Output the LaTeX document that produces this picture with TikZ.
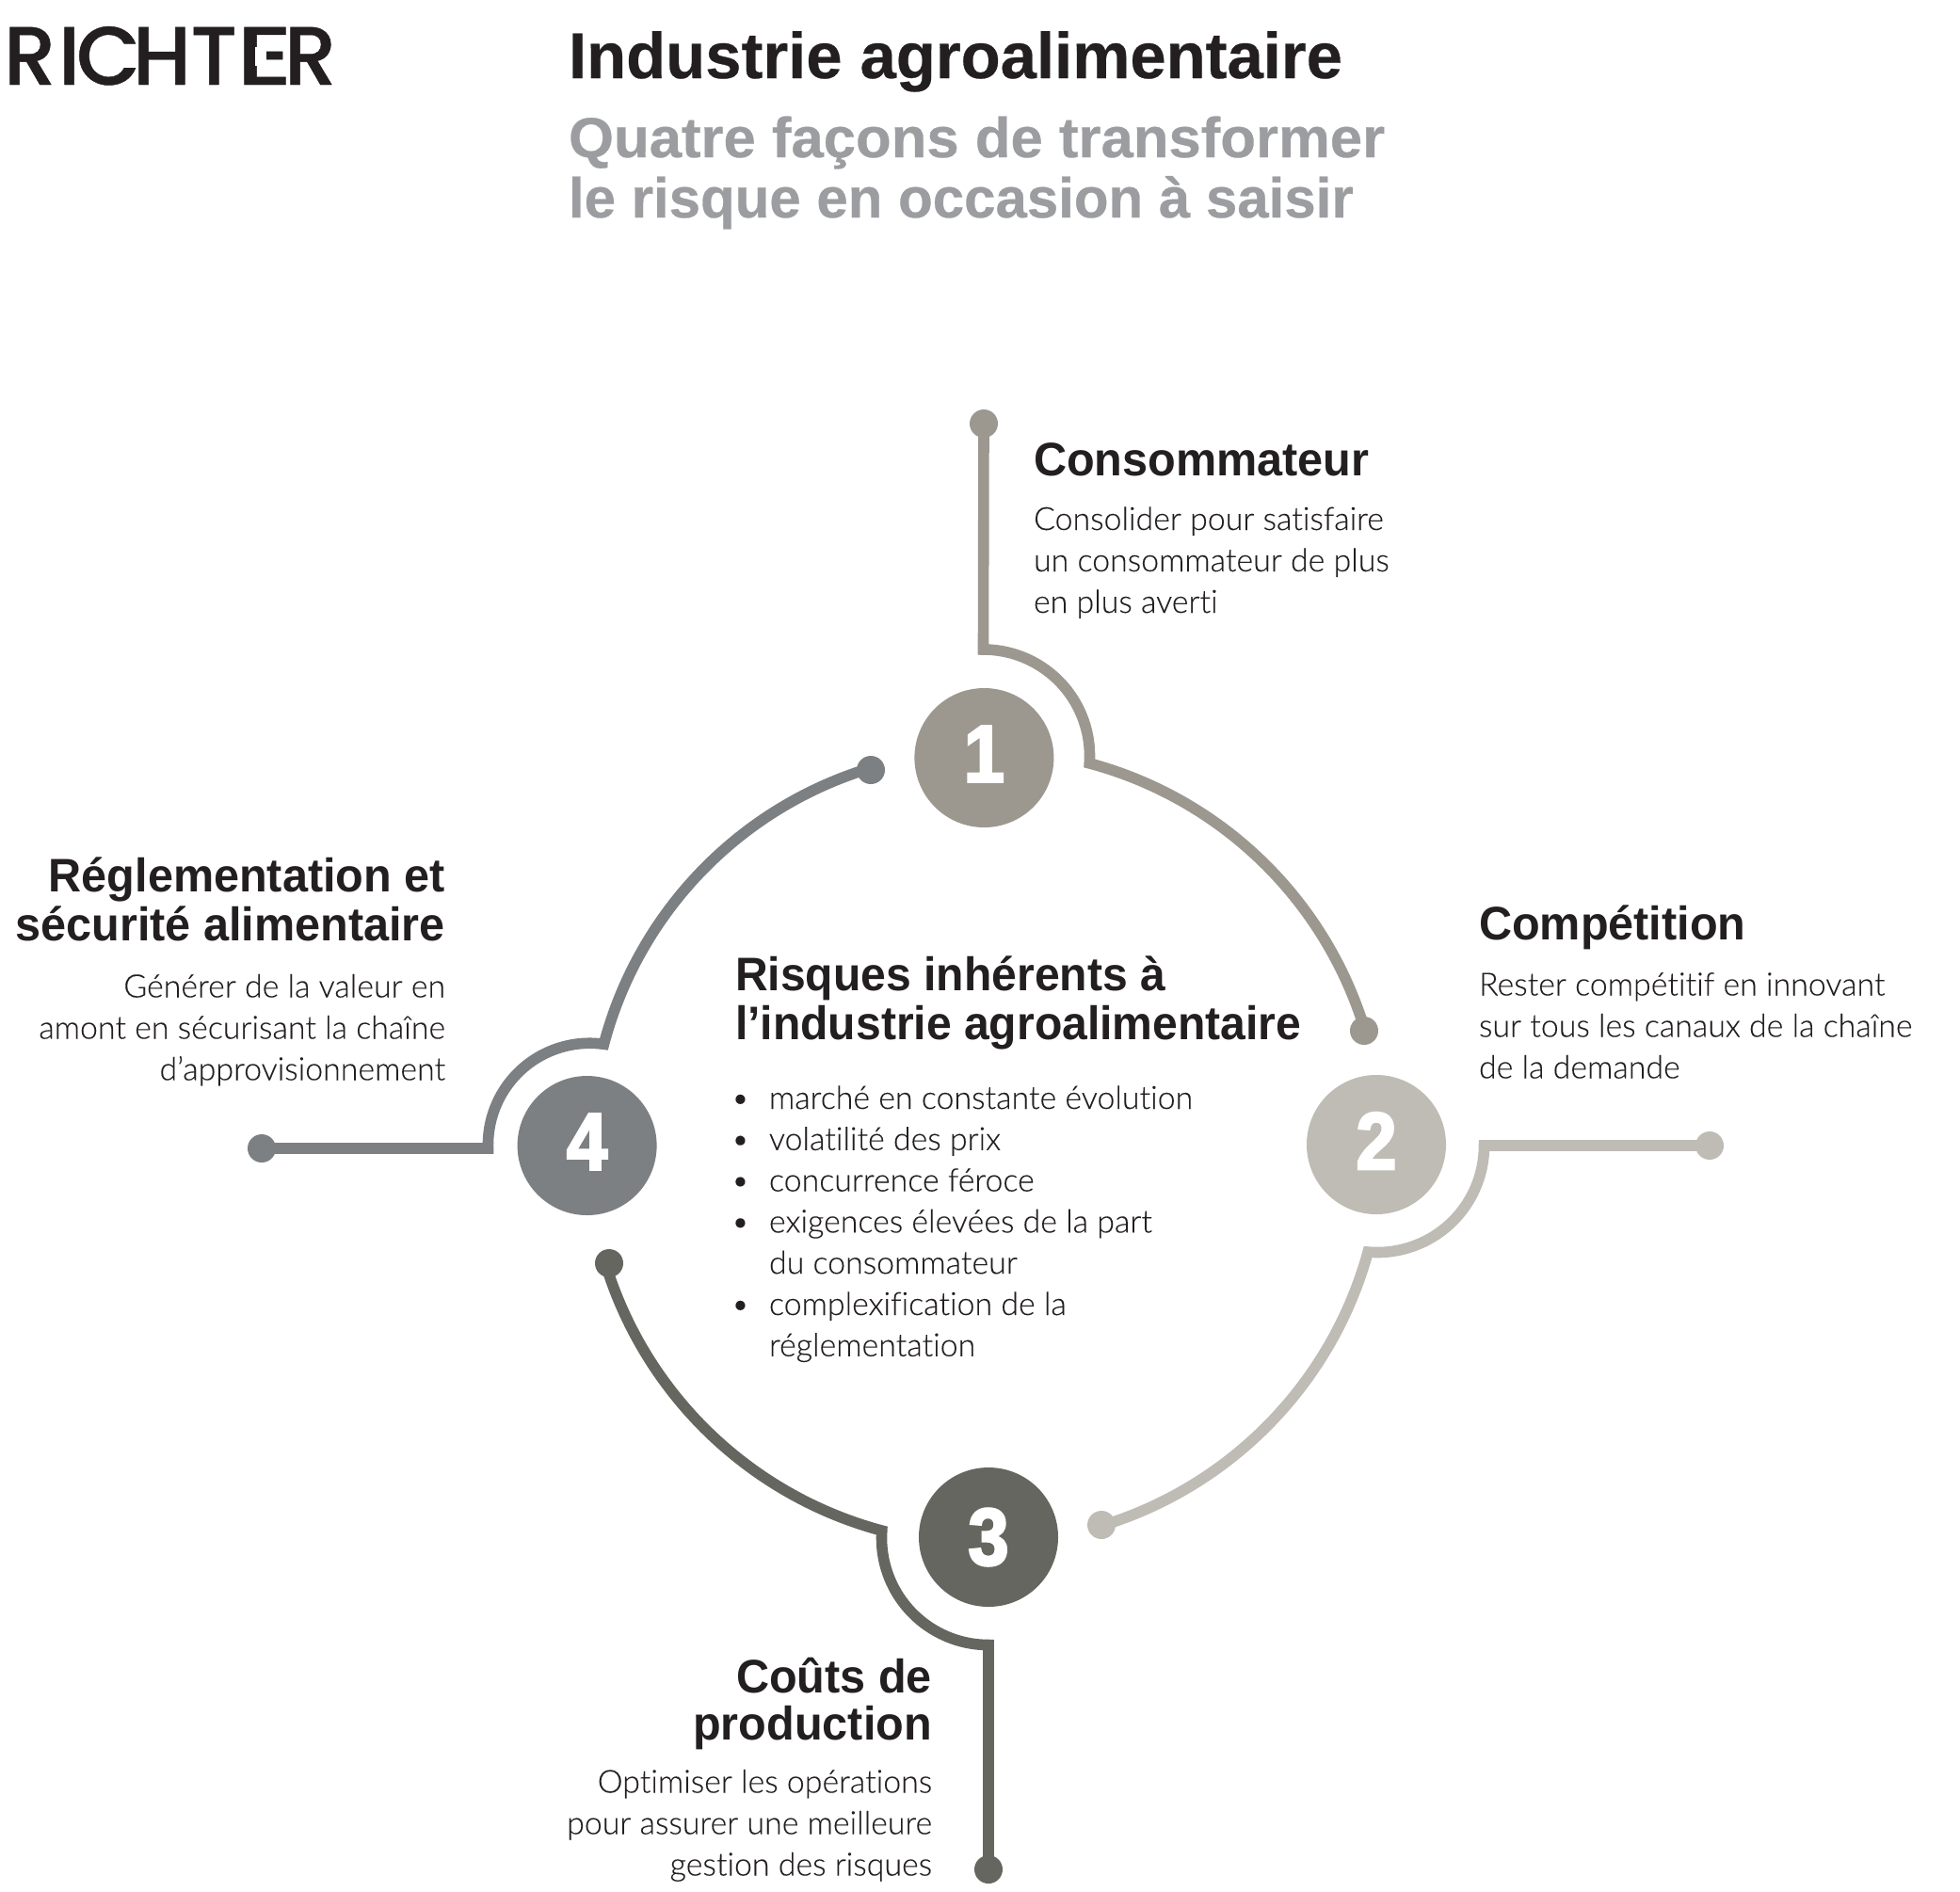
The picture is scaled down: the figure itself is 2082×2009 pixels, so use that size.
\documentclass[tikz,border=0pt]{standalone}
\usepackage{fontspec}
\setmainfont{Liberation Sans}
\newfontfamily\headf{Liberation Sans Bold}[FakeStretch=0.972]
\newfontfamily\centref{Liberation Sans Bold}[FakeStretch=0.962]
\newfontfamily\titlef{Liberation Sans Bold}[FakeBold=0.4]
\newfontfamily\subf{Liberation Sans Bold}[FakeBold=0.5]
\newfontfamily\subwide{Liberation Sans Bold}[FakeStretch=1.028,FakeBold=0.5]
\newfontfamily\logof{Poppins Medium}[FakeBold=0.5]
\newfontfamily\logoe{Poppins Medium}[FakeBold=0.5,FakeStretch=1.3]
\newfontfamily\lightf{Lato Light}[Ligatures=NoCommon,FakeBold=0.15]
\newfontfamily\numf{Liberation Sans Bold}[FakeBold=3,FakeStretch=0.9]
\definecolor{ink}{HTML}{231F20}
\definecolor{sub}{HTML}{9C9DA0}
\definecolor{cone}{HTML}{9C9890}
\definecolor{ctwo}{HTML}{BEBCB4}
\definecolor{cthree}{HTML}{666660}
\definecolor{cfour}{HTML}{7C8082}
\newcommand\lblock[2]{\vtop{\baselineskip=#1\lineskiplimit=-100pt\halign{##\hfil\cr#2\cr}}}
\newcommand\rblock[2]{\vtop{\baselineskip=#1\lineskiplimit=-100pt\halign{\hfil##\cr#2\cr}}}
\newcommand\itm{\makebox[18pt][l]{\hspace*{-2.2pt}•}}
\newcommand\upd[1]{\raisebox{4pt}{#1}}
\newcommand\logoch[2]{\makebox[#1][l]{#2}}
\tikzset{
  txt/.style={inner sep=0pt,outer sep=0pt,text=ink},
  head/.style={txt,font=\headf\fontsize{25}{25}\selectfont},
  body/.style={txt,font=\lightf\fontsize{16.95}{22}\selectfont},
  numdisc/.style={circle,minimum size=74pt,inner sep=0pt,text=white,font=\numf\fontsize{43}{43}\selectfont},
  endcap/.style={circle,minimum size=15pt,inner sep=0pt},
  ring/.style={line width=5.8pt,miter limit=10},
}
\begin{document}
\begin{tikzpicture}[x=0.5pt,y=0.5pt]
\useasboundingbox (0,-2009) rectangle (2082,0);
% header
\node[txt,anchor=base west,font=\logof\fontsize{44}{44}\selectfont] (logo) at (4,-90) {\logoch{29pt}{R}\logoch{9.5pt}{I}\logoch{30pt}{C}\logoch{30.75pt}{H}\logoch{24.25pt}{T}\logoch{25.5pt}{{\logoe E}}R};
\fill[white] (271,-50) rectangle (283,-70);
\node[txt,anchor=base west,font=\titlef\fontsize{34.4}{34}\selectfont] (title) at (604,-83) {Industrie agroalimentaire};
\node[txt,anchor=base west,text=sub,font=\subf\fontsize{30}{32}\selectfont] (subtitle) at (604,-167) {\lblock{32pt}{{\subwide Quatre façons de transformer}\cr le risque en occasion à saisir}};
% discs
\node[numdisc,fill=cone] (n1) at (1045.4,-805) {\upd{1}};
\node[numdisc,fill=ctwo] (n2) at (1462,-1216) {\upd{2}};
\node[numdisc,fill=cthree] (n3) at (1050,-1633) {3};
\node[numdisc,fill=cfour] (n4) at (623.6,-1217) {\upd{4}};
% end dots
\node[endcap,fill=cone] (a1) at (1045,-450) {};
\node[endcap,fill=cone] (b1) at (1449,-1095) {};
\node[endcap,fill=ctwo] (a2) at (1816,-1217) {};
\node[endcap,fill=ctwo] (b2) at (1170,-1620) {};
\node[endcap,fill=cthree] (a3) at (1050,-1986) {};
\node[endcap,fill=cthree] (b3) at (647,-1342) {};
\node[endcap,fill=cfour] (a4) at (278,-1220) {};
\node[endcap,fill=cfour] (b4) at (925,-818) {};
% junctions
\coordinate (j1) at (1044.5,-690);
\coordinate (j2) at (1576.5,-1217);
\coordinate (j3) at (1050,-1747.5);
\coordinate (j4) at (518.5,-1220);
% rings
\draw[ring,draw=cone] (a1.center) -- (j1) arc[start angle=90,end angle=-4,radius=113] arc[start angle=75,end angle=17,radius=419];
\draw[ring,draw=ctwo] (a2.center) -- (j2) arc[start angle=0,end angle=-95,radius=113.5] arc[start angle=-15.4,end angle=-73.2,radius=421];
\draw[ring,draw=cthree] (a3.center) -- (j3) arc[start angle=270,end angle=176,radius=113.5] arc[start angle=255,end angle=197.3,radius=421];
\draw[ring,draw=cfour] (a4.center) -- (j4) arc[start angle=182,end angle=82,radius=108] arc[start angle=165.2,end angle=107.1,radius=418];
% labels
\node[head,anchor=base west] (h1) at (1098,-505.5) {Consommateur};
\node[body,anchor=base west] (t1) at (1098,-563) {\lblock{22pt}{Consolider pour satisfaire\cr un consommateur de plus\cr en plus averti}};
\node[head,anchor=base west] (h2) at (1571,-998.5) {Compétition};
\node[body,anchor=base west] (t2) at (1571,-1057.5) {\lblock{22pt}{Rester compétitif en innovant\cr sur tous les canaux de la chaîne\cr de la demande}};
\node[head,anchor=base east] (h4) at (473,-947.5) {\rblock{26pt}{Réglementation et\cr sécurité alimentaire}};
\node[body,anchor=base east] (t4) at (473,-1059.5) {\rblock{22pt}{Générer de la valeur en\cr amont en sécurisant la chaîne\cr d’approvisionnement}};
\node[head,anchor=base east] (h3) at (990,-1798) {\rblock{25pt}{Coûts de\cr production}};
\node[body,anchor=base east] (t3) at (990,-1904.5) {\rblock{22pt}{Optimiser les opérations\cr pour assurer une meilleure\cr gestion des risques}};
\node[head,font=\centref\fontsize{25}{25}\selectfont,anchor=base west] (hc) at (781,-1052) {\lblock{26pt}{Risques inhérents à\cr l’industrie agroalimentaire}};
\node[body,anchor=base west] (bl) at (781,-1178) {\lblock{21.9pt}{\itm marché en constante évolution\cr \itm volatilité des prix\cr \itm concurrence féroce\cr \itm exigences élevées de la part\cr \hspace*{18pt}du consommateur\cr \itm complexification de la\cr \hspace*{18pt}réglementation}};
\end{tikzpicture}
\end{document}
